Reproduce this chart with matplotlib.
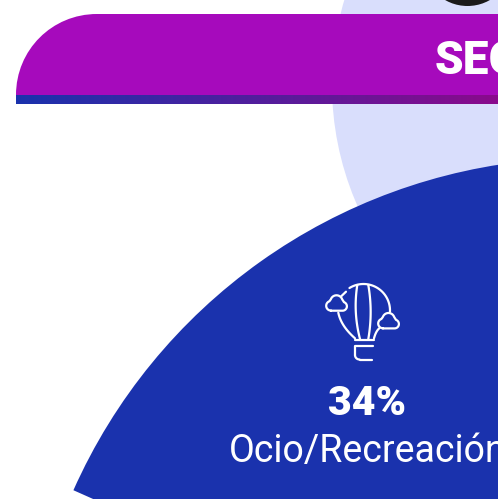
import matplotlib
matplotlib.use("Agg")
import matplotlib.pyplot as plt
import numpy as np
from matplotlib.colors import LinearSegmentedColormap
from matplotlib.patches import Wedge, Circle, PathPatch
from matplotlib.path import Path

share_label = "34%"
category = "Ocio/Recreación"
header = "SEG"
share = 34

BLUE = "#1a32ad"
PURPLE = "#a60abc"
LIGHT = "#d9defc"

fig = plt.figure(figsize=(4.98, 4.99), dpi=100)
ax = fig.add_axes([0, 0, 1, 1])
ax.set_xlim(0, 498)
ax.set_ylim(499, 0)
ax.axis("off")

# light disc behind everything
ax.add_patch(Circle((632, 85), 300, color=LIGHT, lw=0, zorder=1))

# the blue slice, 34 % of a full turn
start = 204
ax.add_patch(Wedge((585, 718), 560, start, start + share * 3.6, color=BLUE, lw=0, zorder=2))

# black circle cut off at the top
ax.add_patch(Circle((467.5, -39), 45, color="#1a1a1a", lw=0, zorder=2))

# header band
verts = [(16, 95), (16, 50), (52, 14), (97, 14), (520, 14), (520, 95), (16, 95)]
codes = [Path.MOVETO, Path.CURVE4, Path.CURVE4, Path.CURVE4, Path.LINETO, Path.LINETO, Path.CLOSEPOLY]
ax.add_patch(PathPatch(Path(verts, codes), fc=PURPLE, ec="none", zorder=3))
grad = np.linspace(0, 1, 256).reshape(1, -1)
cmap = LinearSegmentedColormap.from_list("bar", ["#1a32ad", "#8a0a8c"])
ax.imshow(grad, extent=(16, 498, 104, 95), cmap=cmap, aspect="auto", zorder=3)
ax.set_xlim(0, 498)
ax.set_ylim(499, 0)

ax.text(435, 56.5, header, color="white", fontsize=33, fontweight="black", family="Roboto", va="center_baseline", ha="left", zorder=4)
ax.text(367, 399.5, share_label, color="white", fontsize=29.5, fontweight="black", family="Roboto", va="center_baseline", ha="center", zorder=4)
ax.text(229, 447.5, category, color="white", fontsize=27, fontweight="regular", family="Roboto", va="center_baseline", ha="left", zorder=4)

# balloon icon
ico = dict(color="white", lw=1.6, solid_capstyle="round", solid_joinstyle="round", zorder=4)


def arc(cx, cy, r, a, b):
    t = np.radians(np.linspace(a, b, 40))
    return cx + r * np.cos(t), cy + r * np.sin(t)


def curve(p0, p1, p2):
    # quadratic curve through a control point
    s = np.linspace(0, 1, 30)
    x = (1 - s) ** 2 * p0[0] + 2 * s * (1 - s) * p1[0] + s ** 2 * p2[0]
    y = (1 - s) ** 2 * p0[1] + 2 * s * (1 - s) * p1[1] + s ** 2 * p2[1]
    return x, y


def cloud(cx, cy):
    parts = [arc(cx - 5.5, cy + 2.5, 4.8, 90, 250), arc(cx, cy - 2, 6, 200, 340), arc(cx + 6, cy + 3, 4.4, 290, 450)]
    xs = np.concatenate([p[0] for p in parts] + [[cx - 5.5]])
    ys = np.concatenate([p[1] for p in parts] + [[cy + 7.4]])
    ax.plot(xs, ys, **ico)


ax.plot(*arc(363.5, 310.5, 26.5, -122, 3), **ico)
ax.plot(*curve((338.3, 312.7), (341, 326), (355, 338.3)), **ico)
ax.plot(*curve((379.3, 328.3), (376, 331), (374, 338.3)), **ico)
ax.plot(*curve((357.3, 285), (353, 312), (360, 339)), **ico)
ax.plot(*curve((368.3, 285), (373, 312), (368.3, 339)), **ico)
ax.plot([355, 374], [340, 340], **ico)
ax.plot([372.7, 355, 355], [346, 346, 355], **ico)
ax.plot(*arc(359.5, 355, 4.5, 180, 90), **ico)
ax.plot([359.5, 371.7], [359.5, 359.5], **ico)
ax.plot([341.5, 346], [296, 291.7], **ico)
cloud(336.5, 303.3)
cloud(388.5, 321)

fig.savefig("out.png", dpi=100)
